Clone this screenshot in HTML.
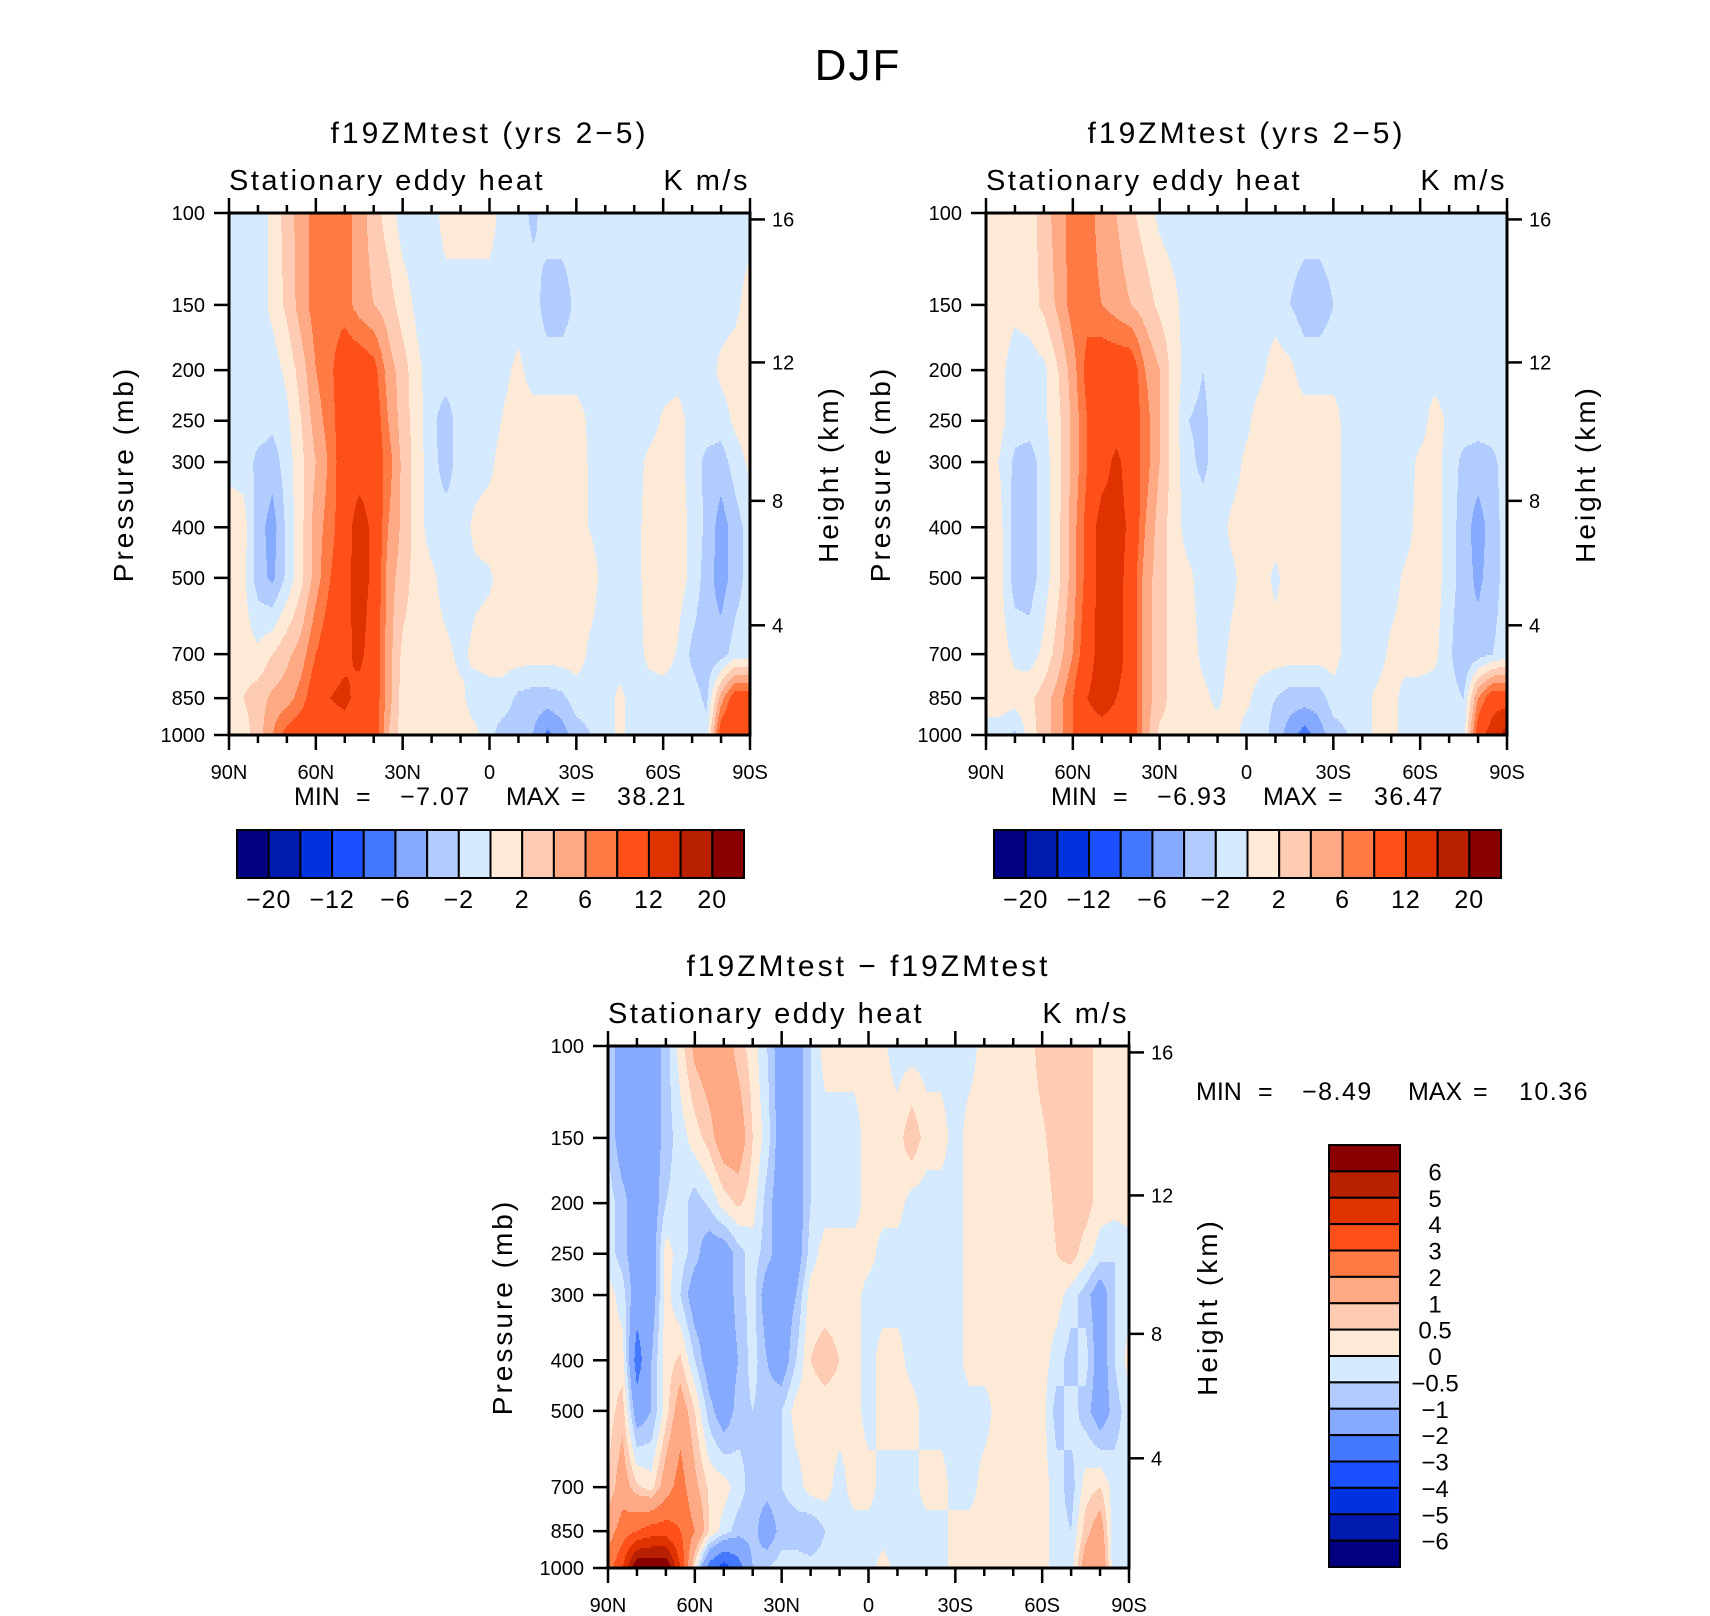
<!DOCTYPE html>
<html><head><meta charset="utf-8">
<style>
html,body{margin:0;padding:0;background:#fff;}
svg{display:block;font-family:"Liberation Sans",sans-serif;}
</style></head>
<body>
<svg id="chart" width="1710" height="1616" viewBox="0 0 1710 1616" xmlns="http://www.w3.org/2000/svg">
<text x="858" y="80" font-size="44" text-anchor="middle" fill="#000" letter-spacing="2">DJF</text>
</svg>
<script>
// ---- data ----
const lats = [90,85,80,75,70,65,60,55,50,45,40,35,30,25,20,15,10,5,0,-5,-10,-15,-20,-25,-30,-35,-40,-45,-50,-55,-60,-65,-70,-75,-80,-85,-90];
const pressureLevels = [100,150,200,250,300,400,500,700,850,1000];
const latTickLabels = ['90N','60N','30N','0','30S','60S','90S'];
const heightTicks = [4,8,12,16];
const colorLevelsTop = [-20,-16,-12,-8,-6,-4,-2,0,2,4,6,8,12,16,20];
const colorLevelsDiff = [-6,-5,-4,-3,-2,-1,-0.5,0,0.5,1,2,3,4,5,6];
const topBarLabels = ['−20','−12','−6','−2','2','6','12','20'];
const diffBarLabels = ['6','5','4','3','2','1','0.5','0','−0.5','−1','−2','−3','−4','−5','−6'];
const palette = ['#000080','#0019AF','#0032E0','#1A50FF','#4478FF','#85AAFF','#B3CCFF','#D6EAFF','#FFEAD7','#FFCCB3','#FFAA85','#FF7A45','#FF5019','#E03200','#B82000','#880000'];

const field1 = [
[-1,-1,-1,0.5,3,5,7,7,7,5,3,1,-1,-1,-1,1,1,1,1,-1,-1,-2.5,-1,-1,-1,-1,-1,-1,-1,-1,-1,-1,-1,-1,-1,-1,-1],
[-1,-1,-1,0.5,2.5,5,7,7,7,5,4,3,1,-0.5,-1,-1,-1,-1,-1,-1,-1,-1,-3,-3,-1.5,-1,-1,-1,-1,-1,-1,-1,-1,-1,-1,-0.5,1],
[-1,-1,-1,-1,0.5,3,6,7.5,10,10,9,5,3,0.5,-1,-1,-1,-1,-1,-0.5,0.5,-1,-1,-1,-1,-1,-1,-1,-1,-1,-1,-1,-1,-1,0.5,1,1],
[-1,-1,-1,-1.5,-0.5,2,5,7,10,10,10,6,3,1,-1.5,-3,-1,-1,-1,0.2,1,1,1,1,1,-0.5,-1,-1,-1,-1,0.3,1,-1,-1,-1,0.5,1],
[-0.5,-1,-2.5,-3,-1,1.5,4,6.5,10,10,10,7,3.5,1,-1.2,-3,-1,-1,-0.5,1,1,1,1,1,1,-0.3,-1,-1,-1,0.5,1,1,-1,-2.5,-3,-1,0.5],
[1,1,-3,-5,-1.5,1.5,5,7,10,14,11,6,3.5,1,-1,-1,-1,0.5,1,1,1,1,1,1,1,-0.2,-1,-1,-1,1,1,1,-0.5,-2.5,-5,-3,-1],
[1,0.5,-3,-4.5,-1.5,1.5,5,8,10.5,14,11,5,3,1,0.5,-1,-1,-0.5,-0.3,1,1,1,1,1,1,1,-1,-1,-1,1,1,1,-0.5,-3,-5,-3,-1],
[1,1,0.5,2,3.5,5,8,10,11,13,10,5,1.5,1,1,0.5,-0.5,0.5,1,1,1,1,1,1,1,-0.5,-1,-1,-1,0.5,1,-0.2,-2.5,-3.5,-3,-1,-1],
[1,2,3,4.5,5,7,10,12,13,10.5,10,5,1,1,1,1,0.5,-1,-1,-1,-2.5,-3,-3,-2.5,-1,-1,-1,0.5,-1,-1,-1,-1,-1,-2.5,5,10,10],
[1,1,3,6,9,10,10,10,10,10,10,4,1,1,1,1,1,0.5,-1.5,-3,-3,-4,-6.5,-5,-3,-2,-1,0.5,-1,-1,-1,-1,-1,-1,10,12,12]
];
const field2 = [
[1,1,1,1,3,5,7,7,5,4,2.5,1,-0.5,-1,-1,-1,-1,-1,-1,-1,-1,-1,-1,-1,-1,-1,-1,-1,-1,-1,-1,-1,-1,-1,-1,-1,-1],
[1,1,0.5,1,2.5,4.5,7,7,6,5,4,3,1.5,0.5,-1,-1,-1,-1,-1,-1,-1,-2,-3,-3,-2,-1,-1,-1,-1,-1,-1,-1,-1,-1,-1,-1,-1],
[1,0.5,-1,-1,-0.5,2,5,9,10,10,10,6,4,1,-1,-2,-1,-1,-1,-0.5,1,0.5,-1,-1,-1,-1,-1,-1,-1,-1,-1,-1,-1,-1,-1,-1,-1],
[1,0.5,-1,-1,-0.5,1.5,4.5,8,10,10,10,7,4,1,-2,-2.5,-1,-1,-0.5,1,1,1,1,1,1,-1,-1,-1,-1,-1,-1,1,-0.5,-1,-1,-1,-1],
[1,-0.2,-2.5,-3,-1,1.5,4.5,8,10,13,10,7,4,1,-1.5,-2.5,-1,-1,0.5,1,1,1,1,1,1,-1,-1,-1,-1,-1,0.5,1,-1,-2.5,-3,-2.5,-1],
[1,0.5,-3,-3,-1,1.5,5,9,14,14,11,6,3,1,-1,-1,-1,0.5,1,1,1,1,1,1,1,-1,-1,-1,-1,-1,1,1,-1,-3,-5,-3,-1],
[1,0.5,-3,-3,-1,1.5,5,9,14,14,10,5,3,1,0.5,-1,-1,-0.5,1,1,-0.5,1,1,1,1,-1,-1,-1,-1,0.5,1,1,-1,-3,-4.5,-3,-1],
[1,1,-0.5,-1,0.5,3,6,10,14,14,10,5,3,1,1,-0.5,-1,0.5,1,1,1,1,1,1,1,-1,-1,-1,0.5,1,1,0.5,-1.5,-4,-3,-2,-1],
[1,1,1,1.5,3,5,8,12,14,12,10,5,3,1,1,0.5,-0.5,1,0.5,-1,-2,-3,-3,-3,-1,-1,-1,0.5,1,-1,-1,-1,-1,-2,6,10,10],
[-1,-1,-2.5,1,3,5,8,10,10,10,10,5,1.5,1,1,0.5,1,1,-1,-1,-3,-5,-7,-5,-3,-2,-1,0.5,1,-1,-1,-1,-1,-1,10,14,18]
];
const field3 = [
[-0.5,-1.5,-1.5,-1.5,-0.75,0.25,1.2,1.5,1.5,0.75,0.25,-0.5,-1.5,-1.5,-0.5,0.25,0.25,0.25,0.25,0.1,-0.25,-0.25,-0.25,-0.25,-0.25,-0.25,0.25,0.25,0.25,0.25,0.75,0.75,0.75,0.75,0.25,0.25,0.25],
[-0.5,-1.5,-1.5,-1.5,-0.75,-0.25,0.25,0.75,1.5,1.5,0.5,-0.25,-1.5,-1.5,-0.5,-0.25,-0.25,-0.25,0.25,0.25,0.25,0.9,0.25,0.25,-0.25,0.25,0.25,0.25,0.25,0.25,0.4,0.75,0.75,0.75,0.25,0.25,0.25],
[-0.25,-0.75,-1.5,-1.5,-0.5,-0.25,-0.75,-0.4,0.25,0.6,0.25,-0.75,-1.5,-1.5,-0.5,-0.25,-0.25,-0.25,0.25,0.25,0.25,-0.25,-0.25,-0.25,-0.25,0.25,0.25,0.25,0.25,0.25,0.25,0.6,0.75,0.75,0.25,0.25,0.25],
[-0.25,-0.75,-1.5,-1.5,0.25,-0.25,-0.75,-1.5,-1.5,-0.75,-0.25,-0.75,-1.5,-1.5,-0.25,0.25,0.25,0.25,0.25,-0.25,-0.25,-0.25,-0.25,-0.25,-0.25,0.25,0.25,0.25,0.25,0.25,0.25,0.5,0.75,0.25,-0.25,-0.5,-0.25],
[0.25,-0.25,-1.5,-1.5,0.25,-0.5,-1.5,-1.5,-1.5,-0.75,-0.25,-1.5,-1.5,-1,0.25,0.25,0.25,0.25,-0.25,-0.25,-0.25,-0.25,-0.25,-0.25,-0.25,0.25,0.25,0.25,0.25,0.25,0.25,0.25,-0.25,-0.75,-1.5,-0.5,-0.25],
[0.25,0.25,-2.5,-1,0.25,0.6,-0.5,-1.5,-1.5,-1,-0.25,-1,-1.5,-0.5,0.5,0.75,0.5,0.25,-0.25,0.25,0.25,-0.25,-0.25,-0.25,-0.25,0.25,0.25,0.25,0.25,0.25,0.25,-0.25,-0.75,-0.25,-1.5,-0.5,0.25],
[0.25,0.75,-1.5,-1,0.25,1.5,0.5,-0.75,-1.5,-0.75,-0.5,-0.75,-0.5,0.25,0.25,0.25,0.25,0.25,-0.25,0.25,0.25,0.25,-0.25,-0.25,-0.25,-0.25,-0.25,0.25,0.25,0.25,0.25,-0.75,-0.25,-0.75,-1.5,-0.75,-0.25],
[0.5,1.5,0.6,0.25,1.5,2.5,1.2,0.4,0.25,-0.25,-0.75,-0.75,-0.5,-0.25,0.25,0.25,-0.25,0.25,0.25,-0.25,-0.25,-0.25,0.25,0.25,-0.25,-0.25,0.25,0.25,0.25,0.25,0.25,-0.25,-0.75,0.25,0.5,-0.25,-0.25],
[1.5,2.5,3,3.5,3.5,3,2,0.5,-0.25,-0.75,-0.75,-1.5,-0.75,-0.75,-1,-0.5,-0.25,-0.25,-0.25,-0.25,-0.25,-0.25,-0.25,-0.25,0.25,0.25,0.25,0.25,0.25,0.25,0.25,-0.25,-0.5,0.75,1.5,-0.5,-0.25],
[2.5,4,7,7,7,4,0.25,-2.5,-3.5,-2.5,-1,-0.5,-0.25,-0.25,-0.25,-0.25,-0.25,-0.25,-0.25,0.25,-0.25,-0.25,-0.25,-0.25,0.25,0.25,0.25,0.25,0.25,0.25,0.25,-0.25,-0.25,1.5,2,-0.5,-0.25]
];

// ---- rendering ----
const NS = 'http://www.w3.org/2000/svg';
const svg = document.getElementById('chart');
function mk(tag, attrs, parent) {
  const e = document.createElementNS(NS, tag);
  for (const k in attrs) e.setAttribute(k, attrs[k]);
  (parent || svg).appendChild(e);
  return e;
}
function txt(s, attrs, parent) { const e = mk('text', attrs, parent); e.textContent = s; return e; }

const lpLev = pressureLevels.map(p => Math.log10(p));
function classOf(v, levels) { let c = 0; for (const l of levels) if (v >= l) c++; return c; }
function sample(field, fx, lp) {
  let j = 0;
  while (j < lpLev.length - 2 && lp > lpLev[j + 1]) j++;
  let ty = (lp - lpLev[j]) / (lpLev[j + 1] - lpLev[j]);
  ty = Math.max(0, Math.min(1, ty));
  let i = Math.min(Math.floor(fx), lats.length - 2);
  let tx = Math.max(0, Math.min(1, fx - i));
  const a = field[j][i], b = field[j][i + 1], c = field[j + 1][i], d = field[j + 1][i + 1];
  return (a * (1 - tx) + b * tx) * (1 - ty) + (c * (1 - tx) + d * tx) * ty;
}
function stdAtmP(hkm) {
  const h = hkm * 1000;
  if (h <= 11000) return 1013.25 * Math.pow(1 - 2.25577e-5 * h, 5.25588);
  return 226.32 * Math.exp(-(h - 11000) / 6341.6);
}

function drawPlot(cfg) {
  const {x, y, w, h, field, levels, name} = cfg;
  const g = mk('g', { });
  const yOfP = p => y + (Math.log10(p) - 2) * h;
  const xOfLat = L => x + (90 - L) / 180 * w;
  const fg = mk('g', {}, g);
  
  
  const step = 2;
  for (let py = 0; py < h; py += step) {
    const lp = 2 + (py + step / 2) / h;
    let runStart = 0, runCls = -1;
    for (let px = 0; px <= w; px++) {
      let cls = -1;
      if (px < w) {
        const lat = 90 - (px + 0.5) / w * 180;
        const fx = (90 - lat) / 5;
        cls = classOf(sample(field, fx, lp), levels);
      }
      if (cls !== runCls) {
        if (runCls >= 0) {
          const r = mk('rect', {x: x + runStart, y: y + py, width: px - runStart, height: step + 0.3, fill: palette[runCls]}, fg);
          
          
        }
        runStart = px; runCls = cls;
      }
    }
  }
  const fr = mk('rect', {x: x, y: y, width: w, height: h, fill: 'none', stroke: '#000', 'stroke-width': 3}, g);
  
  
  for (let L = 90; L >= -90; L -= 10) {
    const major = L % 30 === 0;
    const len = major ? 15 : 8;
    const xx = xOfLat(L);
    mk('line', {x1: xx, y1: y + h, x2: xx, y2: y + h + len, stroke: '#000', 'stroke-width': 2.5}, g);
    mk('line', {x1: xx, y1: y, x2: xx, y2: y - len, stroke: '#000', 'stroke-width': 2.5}, g);
  }
  latTickLabels.forEach((s, k) => {
    const t = txt(s, {x: xOfLat(90 - 30 * k), y: y + h + 44, 'font-size': 20, 'text-anchor': 'middle'}, g);
    
    
  });
  pressureLevels.forEach(p => {
    const yy = yOfP(p);
    mk('line', {x1: x - 15, y1: yy, x2: x, y2: yy, stroke: '#000', 'stroke-width': 2.5}, g);
    const t = txt(String(p), {x: x - 24, y: yy + 7, 'font-size': 20, 'text-anchor': 'end'}, g);
    
    
  });
  heightTicks.forEach(hk => {
    const yy = yOfP(stdAtmP(hk));
    mk('line', {x1: x + w, y1: yy, x2: x + w + 15, y2: yy, stroke: '#000', 'stroke-width': 2.5}, g);
    const t = txt(String(hk), {x: x + w + 22, y: yy + 7, 'font-size': 20}, g);
    
    
  });
  const cy = y + h / 2;
  const yl = txt('Pressure (mb)', {x: 0, y: 0, 'font-size': 28, 'text-anchor': 'middle', 'letter-spacing': 3, transform: `translate(${x - 96},${cy}) rotate(-90)`}, g);
  
  
  const hl = txt('Height (km)', {x: 0, y: 0, 'font-size': 28, 'text-anchor': 'middle', 'letter-spacing': 3, transform: `translate(${x + w + 88},${cy}) rotate(-90)`}, g);
  
  
  const tt = txt(cfg.title, {x: x + w / 2, y: y - 70, 'font-size': 30, 'text-anchor': 'middle', 'letter-spacing': 3}, g);
  
  
  const st = txt('Stationary eddy heat', {x: x, y: y - 23, 'font-size': 29, 'letter-spacing': 2.5}, g);
  
  
  const un = txt('K m/s', {x: x + w, y: y - 23, 'font-size': 29, 'text-anchor': 'end', 'letter-spacing': 2.5}, g);
  
  
}

drawPlot({name: 'panel-top-left', x: 229, y: 213, w: 521, h: 522, field: field1, levels: colorLevelsTop, title: 'f19ZMtest (yrs 2−5)'});
drawPlot({name: 'panel-top-right', x: 986, y: 213, w: 521, h: 522, field: field2, levels: colorLevelsTop, title: 'f19ZMtest (yrs 2−5)'});
drawPlot({name: 'panel-difference', x: 608, y: 1046, w: 521, h: 522, field: field3, levels: colorLevelsDiff, title: 'f19ZMtest − f19ZMtest'});

function minmax(x, y, mn, mx, name) {
  const g = mk('g', { });
  txt('MIN', {x: x, y: y, 'font-size': 25}, g);
  txt('=', {x: x + 62, y: y, 'font-size': 25}, g);
  txt(mn, {x: x + 106, y: y, 'font-size': 25, 'letter-spacing': 1.5}, g);
  txt('MAX', {x: x + 212, y: y, 'font-size': 25}, g);
  txt('=', {x: x + 277, y: y, 'font-size': 25}, g);
  txt(mx, {x: x + 323, y: y, 'font-size': 25, 'letter-spacing': 1.5}, g);
}
minmax(294, 805, '−7.07', '38.21', 'min-max-top-left');
minmax(1051, 805, '−6.93', '36.47', 'min-max-top-right');
minmax(1196, 1100, '−8.49', '10.36', 'min-max-difference');

function hbar(x0, y0, w, hh, name) {
  const g = mk('g', { });
  const bw = w / 16;
  palette.forEach((c, k) => {
    const r = mk('rect', {x: x0 + k * bw, y: y0, width: bw, height: hh, fill: c, stroke: '#000', 'stroke-width': 2}, g);
    
    
  });
  topBarLabels.forEach((s, k) => {
    const t = txt(s, {x: x0 + (1 + 2 * k) * bw, y: y0 + hh + 30, 'font-size': 25, 'text-anchor': 'middle', 'letter-spacing': 1}, g);
    
    
  });
}
hbar(237, 830, 507, 48, 'colorbar-top-left');
hbar(994, 830, 507, 48, 'colorbar-top-right');

(function vbar() {
  const x0 = 1329, y0 = 1145, w = 71, hh = 422;
  const g = mk('g', { });
  const bh = hh / 16;
  palette.slice().reverse().forEach((c, k) => {
    const r = mk('rect', {x: x0, y: y0 + k * bh, width: w, height: bh, fill: c, stroke: '#000', 'stroke-width': 2}, g);
    
    
  });
  diffBarLabels.forEach((s, k) => {
    const t = txt(s, {x: 1435, y: y0 + (k + 1) * bh + 9, 'font-size': 24, 'text-anchor': 'middle'}, g);
    
    
  });
})();
</script>
</body></html>
